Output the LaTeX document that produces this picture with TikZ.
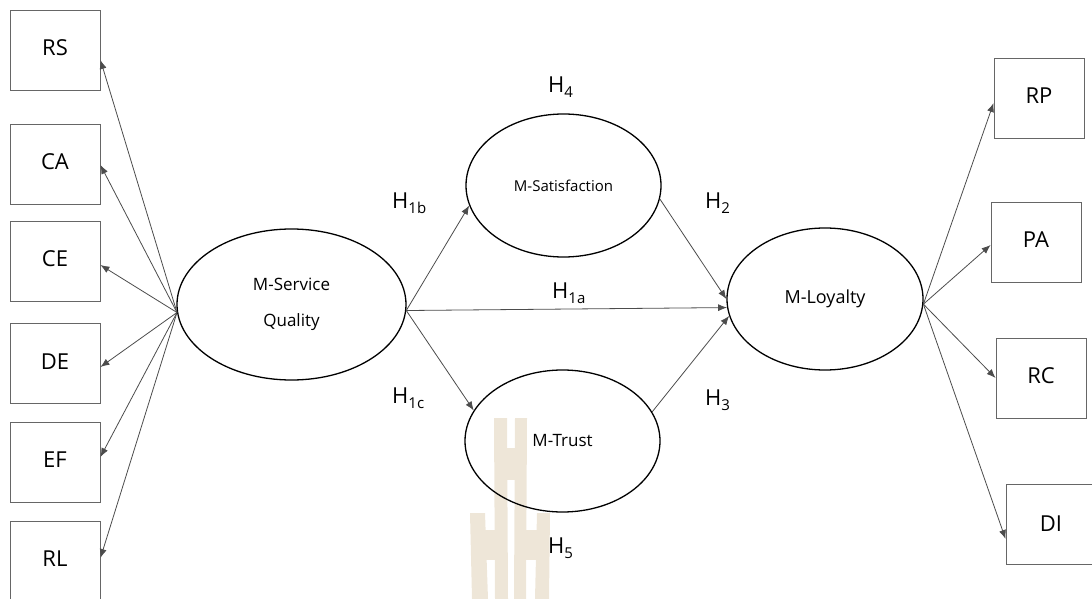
\documentclass[tikz,border=0pt]{standalone}
\usepackage{fontspec}
\setmainfont{Open Sans}
\usetikzlibrary{arrows.meta,calc,shapes.geometric}
\definecolor{wm}{HTML}{EEE6D8}
\begin{document}
\begin{tikzpicture}[x=1pt,y=-1pt,
  box/.style={draw=black!60,line width=0.9pt,minimum width=90pt,minimum height=80pt,inner sep=0pt,font=\fontsize{22}{22}\selectfont},
  lat/.style={draw=black,line width=1.3pt,ellipse,inner sep=0pt},
  conn/.style={draw=black!70,line width=0.8pt,-{Latex[length=9pt,width=7pt]}},
  hyp/.style={font=\fontsize{22}{22}\selectfont,inner sep=0pt,anchor=base west},
]
\useasboundingbox (0,0) rectangle (1092,599);
% watermark
\fill[wm] (494,418) -- (507,418) -- (508,599) -- (495,599) -- cycle;
\fill[wm] (515,418) -- (527,418) -- (526,599) -- (514,599) -- cycle;
\fill[wm] (507,448) rectangle (515,480);
\fill[wm] (470,513) -- (485,513) -- (488,599) -- (472,599) -- cycle;
\fill[wm] (485,530) rectangle (495,560);
\fill[wm] (537,513) -- (550,513) -- (549,599) -- (535,599) -- cycle;
\fill[wm] (526,530) rectangle (537,560);

% left boxes
\node[box] (RS) at (55,50) {\raisebox{4pt}{RS}};
\node[box] (CA) at (55,164) {\raisebox{4pt}{CA}};
\node[box] (CE) at (55,261) {\raisebox{4pt}{CE}};
\node[box] (DE) at (55,363.5) {\raisebox{4pt}{DE}};
\node[box] (EF) at (55,462) {\raisebox{4pt}{EF}};
\node[box] (RL) at (55,561) {\raisebox{4pt}{RL}};
% right boxes
\node[box] (RP) at (1039,98) {\raisebox{4pt}{RP}};
\node[box] (PA) at (1036,242) {\raisebox{4pt}{PA}};
\node[box] (RC) at (1041,378) {\raisebox{4pt}{RC}};
\node[box] (DI) at (1051,524.5) {\raisebox{2pt}{DI}};

% latent variables
\node[lat,minimum width=229pt,minimum height=151pt,align=center,font=\fontsize{17}{36}\selectfont] (MSQ) at (291.5,304.5) {M-Service\\Quality};
\node[lat,minimum width=195pt,minimum height=143pt,font=\fontsize{15}{15}\selectfont] (MSat) at (563.5,185.5) {M-Satisfaction};
\node[lat,minimum width=195pt,minimum height=142pt,font=\fontsize{17}{17}\selectfont] (MTr) at (562.5,441) {M-Trust};
\node[lat,minimum width=196pt,minimum height=142pt,font=\fontsize{18}{18}\selectfont] (MLoy) at (825,299) {M-Loyalty};

% connectors: M-Service Quality to indicators
\coordinate (ql) at (MSQ.184);
\draw[conn] (ql) -- ($(RS.east)+(0,10)$);
\draw[conn] (ql) -- ($(CA.east)+(0,1)$);
\draw[conn] (ql) -- ($(CE.east)+(0,4)$);
\draw[conn] (ql) -- ($(DE.east)+(0,3.5)$);
\draw[conn] (ql) -- ($(EF.east)+(0,-5)$);
\draw[conn] (ql) -- ($(RL.east)+(0,-3)$);

% structural paths
\coordinate (qr) at (MSQ.-3);
\draw[conn] (qr) -- (MSat.192);
\draw[conn] (qr) -- (MTr.161);
\draw[conn] (qr) -- (MLoy.185);
\draw[conn] (MSat.-8) -- (MLoy.180);
\draw[conn] (MTr.18) -- (MLoy.190);

% M-Loyalty to indicators
\coordinate (lr) at (MLoy.-3.5);
\draw[conn] (lr) -- ($(RP.west)+(0,5)$);
\draw[conn] (lr) -- ($(PA.west)+(0,3)$);
\draw[conn] (lr) -- (RC.west);
\draw[conn] (lr) -- ($(DI.west)+(0,14.5)$);

% hypothesis labels
\newcommand{\hsub}[1]{\raisebox{-5pt}{\fontsize{15}{15}\selectfont #1}}
\node[hyp] (h4) at (548,93) {H\hsub{4}};
\node[hyp] (h2) at (705,208) {H\hsub{2}};
\node[hyp] (h1b) at (392,208) {H\hsub{1b}};
\node[hyp] (h1a) at (552,298) {H\hsub{1a}};
\node[hyp] (h1c) at (392,403) {H\hsub{1c}};
\node[hyp] (h3) at (705,405) {H\hsub{3}};
\node[hyp] (h5) at (548,553) {H\hsub{5}};
\end{tikzpicture}
\end{document}
